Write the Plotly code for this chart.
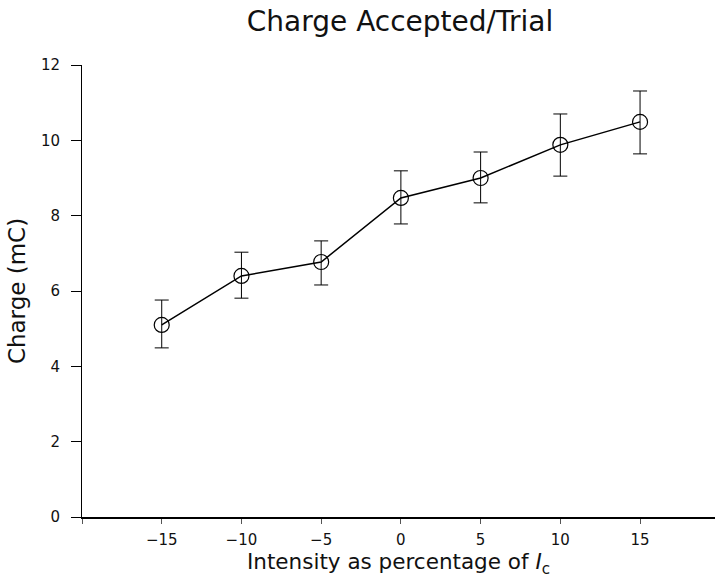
import plotly.graph_objects as go

intensity = [-15, -10, -5, 0, 5, 10, 15]
charge = [5.10, 6.40, 6.77, 8.47, 9.00, 9.88, 10.49]
err_plus = [0.66, 0.63, 0.56, 0.72, 0.69, 0.82, 0.82]
err_minus = [0.61, 0.59, 0.61, 0.69, 0.66, 0.83, 0.85]
x_ticks = [-15, -10, -5, 0, 5, 10, 15]
x_ticklabels = ["\u221215", "\u221210", "\u22125", "0", "5", "10", "15"]
x_minor_ticks = [-20]
y_ticks = [0, 2, 4, 6, 8, 10, 12]

font_family = "DejaVu Sans ExtraLight, DejaVu Sans, sans-serif"

fig = go.Figure()
fig.add_trace(go.Scatter(
    x=intensity, y=charge, mode="lines+markers",
    line=dict(color="black", width=1.5),
    marker=dict(symbol="circle-open", size=15, color="black", line=dict(width=1.2)),
    error_y=dict(type="data", symmetric=False, array=err_plus, arrayminus=err_minus,
                 color="black", thickness=1, width=7),
    showlegend=False,
))

fig.update_layout(
    width=715, height=578,
    margin=dict(l=82, r=0, t=65, b=61),
    paper_bgcolor="white", plot_bgcolor="white",
    font=dict(family=font_family, color="#111", size=15),
    title=dict(text="Charge Accepted/Trial", x=400/715, xanchor="center",
               y=1 - 21/578, yanchor="middle",
               font=dict(size=28, family=font_family, color="#111")),
    xaxis=dict(range=[-20, 19.7], tickvals=x_ticks, ticktext=x_ticklabels,
               showgrid=False, zeroline=False, showline=True, linecolor="black",
               linewidth=2, ticks="outside", ticklen=5, tickcolor="#555", tickwidth=1,
               tickfont=dict(size=15), ticklabelstandoff=3,
               minor=dict(tickvals=x_minor_ticks, ticks="outside", ticklen=5,
                          tickcolor="#555", tickwidth=1, showgrid=False),
               title=dict(text="Intensity as percentage of <i>I</i><sub>c</sub>",
                          font=dict(size=21.5), standoff=1)),
    yaxis=dict(range=[0, 12], tickvals=y_ticks,
               showgrid=False, zeroline=False, showline=True, linecolor="black",
               linewidth=1, ticks="outside", ticklen=10, tickcolor="black", tickwidth=1,
               tickfont=dict(size=15), ticklabelstandoff=8,
               title=dict(text="Charge (mC)", font=dict(size=23), standoff=8)),
)

fig.write_html("out.html")
